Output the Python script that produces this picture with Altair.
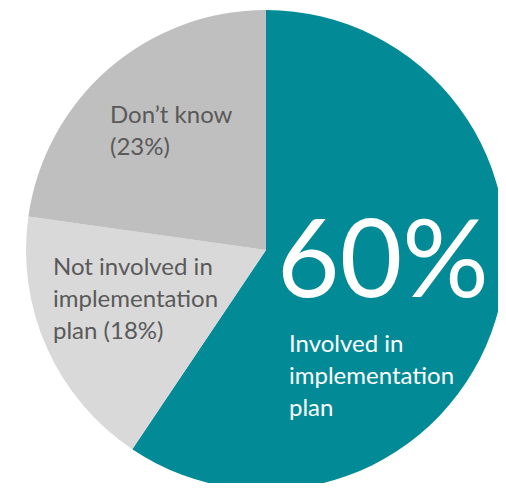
import altair as alt
import pandas as pd

categories = ["Involved in implementation plan", "Not involved in implementation plan", "Don't know"]
values = [60, 18, 23]
colors = ["#028b96", "#d9d9d9", "#bfbfbf"]
order = [1, 2, 3]

df = pd.DataFrame({"category": categories, "value": values, "order": order})

FONT = "Lato"
GREY = "#595959"

pie = alt.Chart(df).mark_arc(radius=240, stroke=None).encode(
    theta=alt.Theta("value:Q", stack=True),
    color=alt.Color("category:N", scale=alt.Scale(domain=categories, range=colors), legend=None),
    order=alt.Order("order:Q"),
    x=alt.value(258),
    y=alt.value(242),
)

def label(text, x, y, size, color):
    return alt.Chart(pd.DataFrame({"t": [text]})).mark_text(
        align="left", baseline="alphabetic", font=FONT, fontSize=size,
        lineBreak="\n", lineHeight=32, color=color,
    ).encode(text="t:N", x=alt.value(x), y=alt.value(y))

l1 = label("Don\u2019t know\n(23%)", 102, 115, 24, GREY)
l2 = label("Not involved in\nimplementation\nplan (18%)", 45, 267, 24, GREY)
l3 = label("60%", 269, 289, 108, "white")
l4 = label("Involved in\nimplementation\nplan", 281, 344, 24, "white")

chart = alt.layer(pie, l1, l2, l3, l4).properties(
    width=490, height=475, padding=0,
    autosize=alt.AutoSizeParams(type="none"),
    background="white",
).configure_view(stroke=None)

chart.save("out.html", embed_options={"renderer": "svg", "actions": False})
